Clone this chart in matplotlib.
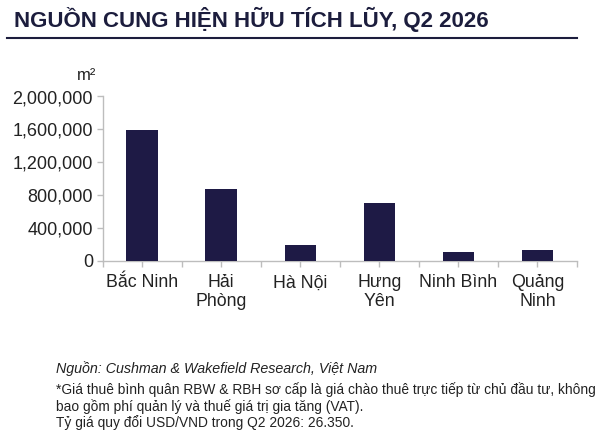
import matplotlib
matplotlib.use("Agg")
import matplotlib.pyplot as plt
from matplotlib.ticker import FuncFormatter
import numpy as np

categories = ["Bắc Ninh", "Hải\nPhòng", "Hà Nội", "Hưng\nYên", "Ninh Bình", "Quảng\nNinh"]
supply = [1590000, 870000, 185000, 705000, 100000, 130000]
y_ticks = [0, 400000, 800000, 1200000, 1600000, 2000000]

title = "NGUỒN CUNG HIỆN HỮU TÍCH LŨY, Q2 2026"
unit = "m²"
source = "Nguồn: Cushman & Wakefield Research, Việt Nam"
notes = ["*Giá thuê bình quân RBW & RBH sơ cấp là giá chào thuê trực tiếp từ chủ đầu tư, không",
         "bao gồm phí quản lý và thuế giá trị gia tăng (VAT).",
         "Tỷ giá quy đổi USD/VND trong Q2 2026: 26.350."]

plt.rcParams['font.family'] = ['Liberation Sans', 'DejaVu Sans']

W, H = 602, 440
fig = plt.figure(figsize=(W / 100, H / 100), dpi=100)
fig.patch.set_facecolor("white")

navy = "#1e1a45"
grey = "#bdbdbd"
text_col = "#222222"

ax = fig.add_axes([102.7 / W, 1 - 260.5 / H, (577 - 102.7) / W, (260.5 - 96.5) / H])
x = np.arange(len(categories))
ax.bar(x, supply, width=0.4, color=navy, zorder=3)
ax.set_xlim(-0.5, len(categories) - 0.5)
ax.set_ylim(0, 2000000)
ax.set_yticks(y_ticks)
ax.yaxis.set_major_formatter(FuncFormatter(lambda v, p: f"{int(v):,}"))
ax.set_xticks(x)
ax.set_xticklabels(categories, fontsize=12.8, color=text_col, linespacing=1.12)
ax.set_xticks(np.arange(-0.5, len(categories)), minor=True)
for s in ["top", "right"]:
    ax.spines[s].set_visible(False)
for s in ["left", "bottom"]:
    ax.spines[s].set_color(grey)
    ax.spines[s].set_linewidth(1.0)
ax.tick_params(axis="y", labelsize=13, colors=grey, labelcolor=text_col, length=4, width=1, pad=3)
ax.tick_params(axis="x", which="major", colors=grey, labelcolor=text_col, length=4, width=1, pad=6)
ax.tick_params(axis="x", which="minor", colors=grey, length=4, width=1)
ax.set_facecolor("white")

fig.text(96 / W, 1 - 80 / H, unit, fontsize=12, color=text_col, ha="right", va="baseline")

fig.text(14 / W, 1 - 27.5 / H, title, fontsize=16.0, fontweight="bold", color="#1c1d3d",
         ha="left", va="baseline")
fig.add_artist(plt.Line2D([7 / W, 577 / W], [1 - 38.5 / H, 1 - 38.5 / H], color="#1c1d3d", lw=1.5))

fig.text(56.5 / W, 1 - 373 / H, source, fontsize=10.3, style="italic", color=text_col,
         ha="left", va="baseline")
for i, line in enumerate(notes):
    fig.text(56.5 / W, 1 - (394 + i * 16.7) / H, line, fontsize=9.9, color=text_col,
             ha="left", va="baseline")

fig.savefig("out.png", dpi=100, facecolor="white")
